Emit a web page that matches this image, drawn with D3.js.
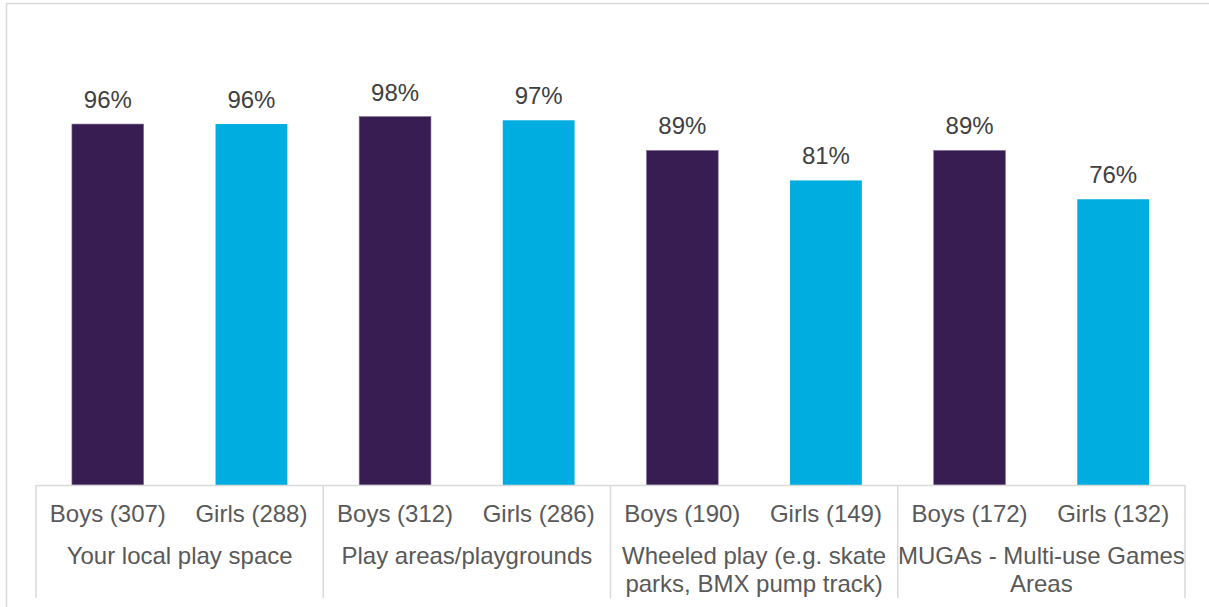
<!DOCTYPE html>
<html>
<head>
<meta charset="utf-8">
<script src="https://cdn.jsdelivr.net/npm/d3@7"></script>
<style>
  html, body { margin: 0; padding: 0; background: #fff; }
  svg { display: block; font-family: "Liberation Sans", Arial, sans-serif; }
</style>
</head>
<body>
<svg id="chart" width="1209" height="607"></svg>
<script>
const groups = ["Your local play space", "Play areas/playgrounds", "Wheeled play (e.g. skate parks, BMX pump track)", "MUGAs - Multi-use Games Areas"];
const groupLines = [["Your local play space"], ["Play areas/playgrounds"], ["Wheeled play (e.g. skate", "parks, BMX pump track)"], ["MUGAs - Multi-use Games", "Areas"]];
const subLabels = [["Boys (307)", "Girls (288)"], ["Boys (312)", "Girls (286)"], ["Boys (190)", "Girls (149)"], ["Boys (172)", "Girls (132)"]];
const boysValues = [96, 98, 89, 89];
const girlsValues = [96, 97, 81, 76];
const seriesColors = ["#371D52", "#00ADE1"];

const svg = d3.select("#chart");
const W = 1209, H = 607;
const left = 36, right = 1185, baseY = 485, topY = 109;
const FS = 24;

// frame
svg.append("rect").attr("x", 6.5).attr("y", 3.5).attr("width", W + 10).attr("height", H + 10)
  .attr("fill", "none").attr("stroke", "#d9d9d9").attr("stroke-width", 1.5);

const x0 = d3.scaleBand().domain(d3.range(groups.length)).range([left, right]).paddingInner(0).paddingOuter(0);
const y = d3.scaleLinear().domain([0, 100]).range([baseY, topY]);

const data = [];
groups.forEach((g, i) => {
  data.push({ g: i, s: 0, v: boysValues[i], label: subLabels[i][0] });
  data.push({ g: i, s: 1, v: girlsValues[i], label: subLabels[i][1] });
});

const bw = x0.bandwidth() / 2;
const barW = bw * 0.5;
const cx = d => x0(d.g) + bw * d.s + bw / 2;

svg.append("g").selectAll("rect").data(data).join("rect")
  .attr("x", d => cx(d) - barW / 2)
  .attr("y", d => y(d.v))
  .attr("width", barW)
  .attr("height", d => y(0) - y(d.v))
  .attr("fill", d => seriesColors[d.s])
  .attr("stroke", d => d.s === 0 ? "#8a7a9c" : "none")
  .attr("stroke-width", 0.6);

svg.append("g").selectAll("text").data(data).join("text")
  .attr("x", d => cx(d))
  .attr("y", d => y(d.v) - 16)
  .attr("text-anchor", "middle")
  .attr("font-size", FS)
  .attr("fill", "#404040")
  .text(d => d.v + "%");

// axis
const axisG = svg.append("g");
axisG.append("line").attr("x1", left).attr("x2", right).attr("y1", baseY + 0.5).attr("y2", baseY + 0.5)
  .attr("stroke", "#d9d9d9").attr("stroke-width", 1.5);
const ticks = d3.range(groups.length + 1).map(i => i < groups.length ? x0(i) : right);
axisG.selectAll("line.tick").data(ticks).join("line").attr("class", "tick")
  .attr("x1", d => d).attr("x2", d => d).attr("y1", baseY).attr("y2", 598)
  .attr("stroke", "#d9d9d9").attr("stroke-width", 1.5);

svg.append("g").selectAll("text").data(data).join("text")
  .attr("x", d => cx(d))
  .attr("y", 522)
  .attr("text-anchor", "middle")
  .attr("font-size", FS)
  .attr("fill", "#595959")
  .text(d => d.label);

const gl = svg.append("g").selectAll("text").data(groupLines).join("text")
  .attr("x", (d, i) => x0(i) + x0.bandwidth() / 2)
  .attr("y", 564)
  .attr("text-anchor", "middle")
  .attr("font-size", FS)
  .attr("fill", "#595959");
gl.selectAll("tspan").data(d => d).join("tspan")
  .attr("x", function() { return d3.select(this.parentNode).attr("x"); })
  .attr("dy", (d, i) => i === 0 ? 0 : 28)
  .text(d => d);
</script>
</body>
</html>
